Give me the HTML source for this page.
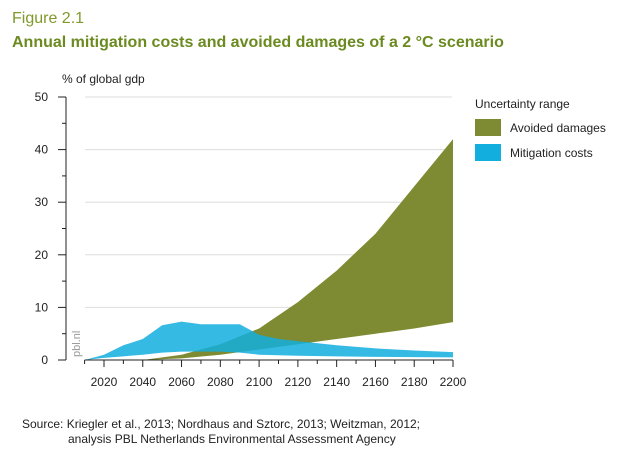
<!DOCTYPE html>
<html><head><meta charset="utf-8"><style>
body{margin:0;background:#fff;width:618px;height:453px;overflow:hidden;font-family:"Liberation Sans",sans-serif}
</style></head><body>
<svg width="618" height="453" font-family="Liberation Sans, sans-serif">
<text x="12" y="23" font-size="16" fill="#7f9a2a">Figure 2.1</text>
<text x="12" y="47" font-size="16" font-weight="bold" fill="#6b8a1f">Annual mitigation costs and avoided damages of a 2 °C scenario</text>
<text x="62" y="83" font-size="12" fill="#222">% of global gdp</text>
<g id="grid"></g><g id="areas"></g><g id="axes"></g>
<text x="80" y="357" font-size="11" fill="#999" transform="rotate(-90 80 357)">pbl.nl</text>
<text x="475" y="108" font-size="12" fill="#222">Uncertainty range</text>
<rect x="475" y="119" width="26" height="17" fill="#7f8b32"/>
<text x="510" y="132" font-size="12" fill="#222">Avoided damages</text>
<rect x="475" y="144" width="26" height="17" fill="#12aede"/>
<text x="510" y="157" font-size="12" fill="#222">Mitigation costs</text>
<text x="22" y="428" font-size="12" fill="#222">Source: Kriegler et al., 2013; Nordhaus and Sztorc, 2013; Weitzman, 2012;</text>
<text x="68" y="443" font-size="12" fill="#222">analysis PBL Netherlands Environmental Assessment Agency</text>
</svg>
<script>
const dmgYears=[2040,2060,2080,2100,2120,2140,2160,2180,2200];
const dmgUpper=[0,1,3,6,11,17,24,33,42];
const dmgLower=[0,0.3,1,2,3,4,5,6,7.2];
const mitYears=[2010,2020,2030,2040,2050,2060,2070,2080,2090,2100,2110,2120,2140,2160,2180,2200];
const mitUpper=[0,1,2.8,4,6.6,7.3,6.8,6.8,6.8,4.8,4,3.6,2.8,2.2,1.8,1.5];
const mitLower=[0,0.4,0.7,1,1.4,1.6,1.6,1.6,1.4,1.0,0.9,0.8,0.7,0.6,0.55,0.5];
const yTicks=[0,10,20,30,40,50];
const xTicks=[2020,2040,2060,2080,2100,2120,2140,2160,2180,2200];
const NS='http://www.w3.org/2000/svg';
const X=y=>84.6+(y-2010)*349/180;
const Y=v=>360-v*5.26;
function mk(t,a,p){const e=document.createElementNS(NS,t);for(const k in a)e.setAttribute(k,a[k]);document.getElementById(p).appendChild(e);return e;}
yTicks.forEach(v=>{
 if(v>0){const g=mk('line',{x1:85,x2:452,y1:Y(v),y2:Y(v),stroke:'#ddd','stroke-width':1},'grid');
 
 }
 const t=mk('text',{x:48,y:Y(v)+4,'font-size':12,'text-anchor':'end',fill:'#222'},'axes');t.textContent=v;
 
 
 mk('line',{x1:58,x2:66,y1:Y(v),y2:Y(v),stroke:'#222'},'axes');
 if(v<50)mk('line',{x1:62,x2:66,y1:Y(v+5),y2:Y(v+5),stroke:'#222'},'axes');
});
mk('line',{x1:66,x2:66,y1:Y(50),y2:Y(0),stroke:'#222'},'axes');
mk('line',{x1:X(2010),x2:X(2200),y1:360,y2:360,stroke:'#222'},'axes');
for(let y=2010;y<=2200;y+=10){mk('line',{x1:X(y),x2:X(y),y1:360,y2:y%20==0?367:364,stroke:'#222'},'axes');}
xTicks.forEach(y=>{const t=mk('text',{x:X(y),y:386,'font-size':12,'text-anchor':'middle',fill:'#222'},'axes');t.textContent=y;
 
 });
function band(xs,up,lo,fill,op,name){
 let d=xs.map((x,i)=>(i?'L':'M')+X(x)+','+Y(up[i])).join('');
 for(let i=xs.length-1;i>=0;i--)d+='L'+X(xs[i])+','+Y(lo[i]);
 const p=mk('path',{d:d+'Z',fill:fill,'fill-opacity':op},'areas');
 
 
}
band(dmgYears,dmgUpper,dmgLower,'#7f8b32',1,'avoided-damages-band');
band(mitYears,mitUpper,mitLower,'#12aede',0.85,'mitigation-costs-band');
</script>
</body></html>
